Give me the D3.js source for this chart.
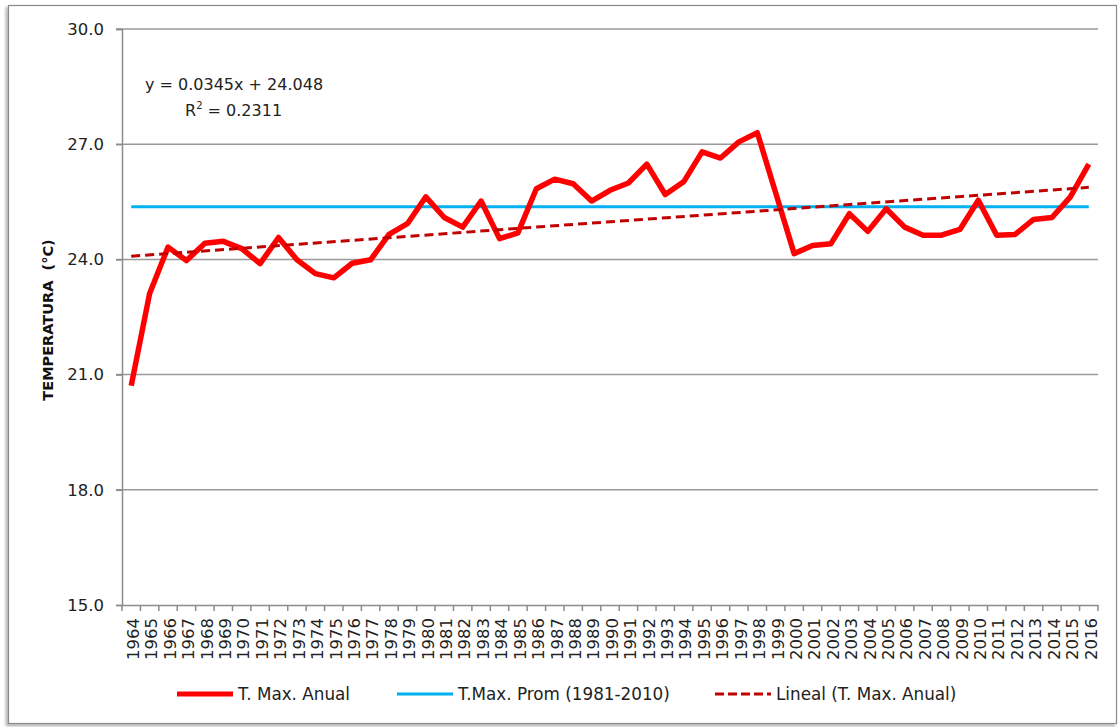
<!DOCTYPE html>
<html>
<head>
<meta charset="utf-8">
<script src="https://cdn.jsdelivr.net/npm/d3@7/dist/d3.min.js"></script>
<style>
  body { margin: 0; background: #fff; }
  svg { display: block; font-family: "DejaVu Sans", sans-serif; }
</style>
</head>
<body>
<svg id="chart" width="1119" height="727"></svg>
<script>
// years on the category axis
const years = d3.range(1964, 2017).map(String);

// T. Max. Anual (°C)
const tmaxAnual = [
  20.71, 23.11, 24.32, 23.97, 24.42, 24.47, 24.28, 23.89, 24.57, 23.99,
  23.63, 23.52, 23.90, 23.99, 24.65, 24.93, 25.63, 25.09, 24.84, 25.52,
  24.54, 24.69, 25.84, 26.09, 25.97, 25.52, 25.80, 25.99, 26.48, 25.69,
  26.02, 26.80, 26.64, 27.06, 27.30, 25.73, 24.15, 24.36, 24.41, 25.19,
  24.73, 25.32, 24.84, 24.63, 24.63, 24.78, 25.54, 24.63, 24.65, 25.04,
  25.09, 25.63, 26.48
];

// T.Max. Prom (1981-2010)
const tmaxProm = 25.37;

// linear trend as printed on the chart
const trendSlope = 0.0345;
const trendIntercept = 24.048;
const trendLabel = "y = 0.0345x + 24.048";
const r2Value = "0.2311";

const yTicks = [15, 18, 21, 24, 27, 30];

const legendLabels = ["T. Max. Anual", "T.Max. Prom (1981-2010)", "Lineal (T. Max. Anual)"];

const svg = d3.select("#chart");

const defs = svg.append("defs");
const shadow = defs.append("filter").attr("id", "shadow")
  .attr("x", "-5%").attr("y", "-5%").attr("width", "110%").attr("height", "110%");
shadow.append("feDropShadow")
  .attr("dx", -2).attr("dy", 2).attr("stdDeviation", 1.5)
  .attr("flood-color", "#000").attr("flood-opacity", 0.35);

// chart frame
svg.append("rect")
  .attr("x", 8.5).attr("y", 5.5)
  .attr("width", 1108).attr("height", 718)
  .attr("fill", "#fff")
  .attr("stroke", "#8a8a8a")
  .attr("stroke-width", 1.2)
  .attr("filter", "url(#shadow)");

const plotLeft = 122, plotRight = 1098, plotTop = 29, plotBottom = 605;

const x = d3.scaleBand().domain(years).range([plotLeft, plotRight]).padding(0);
const y = d3.scaleLinear().domain([15, 30]).range([plotBottom, plotTop]);
const cx = (d) => x(d) + x.bandwidth() / 2;

// grid lines
svg.append("g")
  .selectAll("line")
  .data(yTicks.filter((t) => t > 15))
  .join("line")
  .attr("x1", plotLeft - 6).attr("x2", plotRight)
  .attr("y1", (d) => y(d)).attr("y2", (d) => y(d))
  .attr("stroke", "#9a9a9a")
  .attr("stroke-width", 1.5);

// y axis
const yAxis = svg.append("g")
  .attr("transform", `translate(${plotLeft},0)`)
  .call(d3.axisLeft(y).tickValues(yTicks).tickFormat(d3.format(".1f")).tickSize(6).tickPadding(12));
yAxis.select(".domain").attr("stroke", "#8c8c8c").attr("stroke-width", 1.5);
yAxis.selectAll(".tick line").attr("stroke", "#8c8c8c").attr("stroke-width", 1.5);
yAxis.selectAll(".tick text")
  .attr("font-size", 16.5)
  .attr("font-family", "DejaVu Sans, sans-serif")
  .attr("fill", "#222");

// x axis: labels at category centres, tick marks at category edges
const xAxis = svg.append("g")
  .attr("transform", `translate(0,${plotBottom})`)
  .call(d3.axisBottom(x).tickSize(0).tickPadding(0));
xAxis.select(".domain").attr("stroke", "#8c8c8c").attr("stroke-width", 1.5);
xAxis.selectAll(".tick text")
  .attr("transform", "rotate(-90)")
  .attr("text-anchor", "end")
  .attr("x", -13)
  .attr("y", 2)
  .attr("dy", "0.35em")
  .attr("font-size", 16.5)
  .attr("font-family", "DejaVu Sans, sans-serif")
  .attr("fill", "#222");

const edges = years.map((d) => x(d)).concat([plotRight]);
svg.append("g")
  .selectAll("line")
  .data(edges)
  .join("line")
  .attr("x1", (d) => d).attr("x2", (d) => d)
  .attr("y1", plotBottom).attr("y2", plotBottom + 6)
  .attr("stroke", "#8c8c8c")
  .attr("stroke-width", 1.5);

// average line
svg.append("line")
  .attr("x1", cx(years[0])).attr("x2", cx(years[years.length - 1]))
  .attr("y1", y(tmaxProm)).attr("y2", y(tmaxProm))
  .attr("stroke", "#00b0f0")
  .attr("stroke-width", 3);

// annual series
const line = d3.line().x((d, i) => cx(years[i])).y((d) => y(d));
svg.append("path")
  .datum(tmaxAnual)
  .attr("d", line)
  .attr("fill", "none")
  .attr("stroke", "#ff0000")
  .attr("stroke-width", 5.5)
  .attr("stroke-linejoin", "round");

// trend line
const n = years.length;
svg.append("line")
  .attr("x1", cx(years[0])).attr("x2", cx(years[n - 1]))
  .attr("y1", y(trendIntercept + trendSlope * 1))
  .attr("y2", y(trendIntercept + trendSlope * n))
  .attr("stroke", "#c00000")
  .attr("stroke-width", 3)
  .attr("stroke-dasharray", "9,5");

// equation
const eq = svg.append("text")
  .attr("font-size", 16)
  .attr("fill", "#222");
eq.append("tspan").attr("x", 145).attr("y", 90).text(trendLabel);
const r2 = svg.append("text").attr("x", 185).attr("y", 116).attr("font-size", 16).attr("fill", "#222");
r2.append("tspan").text("R");
r2.append("tspan").attr("font-size", 10).attr("dy", -7).text("2");
r2.append("tspan").attr("dy", 7).text(" = " + r2Value);

// axis title
svg.append("text")
  .attr("transform", "translate(53,320) rotate(-90)")
  .attr("text-anchor", "middle")
  .attr("font-size", 14.5)
  .attr("font-weight", "bold")
  .attr("fill", "#111")
  .text("TEMPERATURA\u00a0\u00a0(°C)");

// legend
const legendItems = [
  { label: legendLabels[0], x: 177, color: "#ff0000", width: 5, dash: null },
  { label: legendLabels[1], x: 397, color: "#00b0f0", width: 3, dash: null },
  { label: legendLabels[2], x: 715, color: "#c00000", width: 3, dash: "9,4" }
];
const legend = svg.append("g").attr("transform", "translate(0,694)");
const li = legend.selectAll("g").data(legendItems).join("g")
  .attr("transform", (d) => `translate(${d.x},0)`);
li.append("line")
  .attr("x1", 0).attr("x2", 56)
  .attr("stroke", (d) => d.color)
  .attr("stroke-width", (d) => d.width)
  .attr("stroke-dasharray", (d) => d.dash);
li.append("text")
  .attr("x", 61)
  .attr("dy", "0.36em")
  .attr("font-size", 16.8)
  .attr("fill", "#222")
  .text((d) => d.label);
</script>
</body>
</html>
